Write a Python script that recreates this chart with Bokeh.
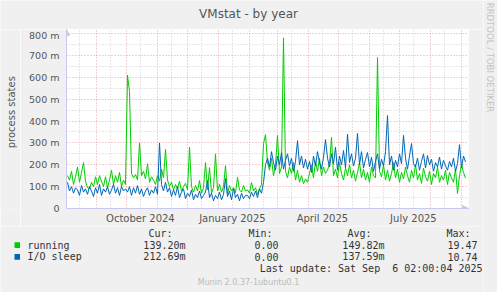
import numpy as np
import pandas as pd
from bokeh.plotting import figure
from bokeh.layouts import row, column
from bokeh.models import (Range1d, FixedTicker, Arrow, NormalHead, DatetimeTickFormatter)
from bokeh.core.properties import value
from bokeh.embed import file_html
from bokeh.resources import INLINE

# ---------------- data ----------------
dates = pd.date_range("2024-08-03 02:00", periods=200, freq="2D")

running = [
    150, 130, 170, 110, 145, 190, 120, 165, 210, 125,
    95, 90, 120, 100, 145, 110, 150, 125, 100, 145,
    95, 130, 175, 110, 150, 120, 165, 100, 130, 110,
    610, 535, 160, 140, 155, 130, 300, 150, 170, 135,
    205, 120, 145, 130, 110, 150, 125, 180, 140, 270,
    130, 100, 120, 85, 110, 90, 125, 80, 100, 115,
    85, 280, 100, 75, 105, 80, 128, 70, 95, 210,
    85, 187, 70, 95, 250, 80, 110, 75, 100, 196,
    70, 105, 80, 95, 72, 142, 85, 75, 105, 80,
    85, 70, 119, 80, 95, 65, 90, 110, 297, 338,
    210, 175, 230, 150, 200, 334, 160, 190, 780, 170,
    140, 190, 160, 210, 130, 175, 120, 150, 114, 135,
    120, 160, 200, 140, 215, 170, 230, 150, 190, 160,
    175, 205, 325, 150, 180, 140, 210, 160, 130, 185,
    150, 200, 140, 175, 125, 165, 210, 140, 180, 130,
    165, 120, 190, 150, 140, 690, 170, 145, 200, 130,
    175, 125, 160, 210, 140, 180, 120, 165, 135, 190,
    150, 120, 175, 140, 200, 130, 160, 115, 185, 145,
    125, 170, 110, 160, 140, 190, 120, 150, 130, 175,
    110, 165, 140, 120, 180, 69, 150, 200, 165, 139,
]

io_sleep = [
    120, 80, 100, 70, 95, 85, 60, 105, 75, 90,
    65, 100, 80, 55, 95, 70, 110, 60, 90, 75,
    100, 65, 85, 110, 70, 95, 60, 100, 80, 90,
    75, 100, 60, 95, 70, 105, 65, 90, 55, 80,
    95, 60, 85, 70, 100, 65, 300, 110, 80, 120,
    75, 95, 55, 85, 60, 100, 50, 75, 90, 45,
    70, 55, 85, 40, 65, 50, 80, 45, 60, 75,
    128, 50, 70, 35, 60, 45, 75, 40, 65, 137,
    55, 80, 40, 91, 50, 65, 35, 70, 45, 60,
    60, 45, 75, 55, 80, 50, 90, 70, 119, 200,
    230, 190, 260, 210, 175, 240, 200, 255, 180, 220,
    250, 195, 230, 170, 215, 310, 200, 240, 185, 225,
    180, 215, 165, 240, 195, 260, 210, 180, 235, 315,
    230, 190, 250, 205, 280, 175, 240, 200, 265, 185,
    340, 210, 250, 195, 230, 343, 200, 260, 185, 225,
    256, 190, 235, 170, 215, 250, 180, 225, 195, 260,
    425, 200, 240, 175, 220, 190, 250, 205, 334, 230,
    180, 240, 297, 205, 190, 230, 175, 215, 250, 185,
    242, 200, 225, 170, 210, 190, 235, 180, 220, 195,
    175, 215, 190, 230, 170, 205, 292, 185, 240, 213,
]

series_names = ["running", "I/O sleep"]
series_colors = ["#00CC00", "#0066B3"]
col_headers = ["Cur:", "Min:", "Avg:", "Max:"]
cur_vals = ["139.20m", "212.69m"]
min_vals = ["0.00", "0.00"]
avg_vals = ["149.82m", "137.59m"]
max_vals = ["19.47", "10.74"]

y_ticks = [0, 100, 200, 300, 400, 500, 600, 700, 800]
y_tick_labels = ["0", "100 m", "200 m", "300 m", "400 m", "500 m", "600 m", "700 m", "800 m"]
x_label_dates = ["2024-10-15", "2025-01-15", "2025-04-15", "2025-07-15"]

title_text = "VMstat - by year"
y_label_text = "process states"
credit_text = "RRDTOOL / TOBI OETIKER"
update_text = "Last update: Sat Sep\u00a0 6 02:00:04 2025"
version_text = "Munin 2.0.37-1ubuntu0.1"

# ---------------- layout constants ----------------
W, H = 497, 292
STRIP = 483          # right credit strip starts here
YL = 20              # width of y-label strip
FL, FR, FT, FB = 66, 468, 29, 208   # frame edges in page pixels
LEG_TOP = 226
BG = "#F0F0F0"
TXT = "#555555"
LEG_TXT = "#333333"
AXIS_C = "#C8C8F2"
DAY = 86400000
t0 = pd.Timestamp("2024-08-02 02:00").value // 10**6
y_top = 800 * (FB - FT) / 175.0


def ms(s):
    return pd.Timestamp(s).value // 10**6


def canvas_fig(w, h, x0, y0):
    f = figure(width=w, height=h, x_range=Range1d(x0, x0 + w), y_range=Range1d(y0 + h, y0),
               output_backend="svg", toolbar_location=None,
               x_axis_location=None, y_axis_location=None,
               min_border=0, border_fill_color=BG, background_fill_color=BG,
               outline_line_color=None)
    f.grid.visible = False
    return f


def put(f, x, y, text, align="left", font="DejaVu Sans Mono", size="10px",
        color=LEG_TXT, angle=0.0):
    f.text(x=[x], y=[y], text=[text], text_align=align, text_baseline="middle",
           text_font=value(font), text_font_size=value(size), text_color=color,
           angle=angle)


# ---------------- main plot ----------------
p = figure(width=STRIP - YL, height=LEG_TOP - FT, x_axis_type="datetime",
           x_range=Range1d(t0, t0 + (FR - FL) * DAY),
           y_range=Range1d(0, y_top),
           output_backend="svg", toolbar_location=None,
           min_border_left=FL - YL, min_border_right=STRIP - FR,
           min_border_top=0, min_border_bottom=LEG_TOP - FB,
           background_fill_color="white", border_fill_color=BG,
           outline_line_color=None)

month_starts = [ms(d) for d in pd.date_range("2024-09-01", "2025-09-01", freq="MS")]
mid_months = [ms(d) for d in pd.date_range("2024-08-01", "2025-08-01", freq="MS") + pd.Timedelta(days=14)]
p.xgrid.ticker = FixedTicker(ticks=month_starts, minor_ticks=mid_months)
p.ygrid.ticker = FixedTicker(ticks=y_ticks, minor_ticks=[v + 50 for v in y_ticks[:-1]])
for g in (p.xgrid, p.ygrid):
    g.grid_line_color = "#EBA3A3"
    g.grid_line_dash = "1 2"
    g.grid_line_width = 1
    g.minor_grid_line_color = "#CFCFCF"
    g.minor_grid_line_dash = "1 2"
    g.minor_grid_line_width = 1

for ax in (p.xaxis, p.yaxis):
    ax.axis_line_color = AXIS_C
    ax.major_tick_line_color = None
    ax.minor_tick_line_color = None
    ax.major_tick_out = 0
    ax.major_tick_in = 0
    ax.minor_tick_out = 0
    ax.minor_tick_in = 0
    ax.major_label_text_font = "DejaVu Sans"
    ax.major_label_text_color = TXT

p.yaxis.ticker = FixedTicker(ticks=y_ticks)
p.yaxis.major_label_overrides = {v: l for v, l in zip(y_ticks, y_tick_labels)}
p.yaxis.major_label_standoff = 7
p.yaxis.major_label_text_font_size = "9.5px"

p.xaxis.ticker = FixedTicker(ticks=[ms(d) for d in x_label_dates])
fmt = "%B %Y"
p.xaxis.formatter = DatetimeTickFormatter(
    microseconds=fmt, milliseconds=fmt, seconds=fmt, minsec=fmt, minutes=fmt,
    hourmin=fmt, hours=fmt, days=fmt, months=fmt, years=fmt)
p.xaxis.major_label_standoff = 4
p.xaxis.major_label_text_font_size = "10px"

p.line(dates, running, line_color=series_colors[0], line_width=1)
p.line(dates, io_sleep, line_color=series_colors[1], line_width=1)

p.add_layout(Arrow(end=NormalHead(size=6, fill_color=AXIS_C, line_color=AXIS_C),
                   x_start=t0, y_start=y_top - 20, x_end=t0, y_end=y_top,
                   line_color=AXIS_C))
p.add_layout(Arrow(end=NormalHead(size=6, fill_color=AXIS_C, line_color=AXIS_C),
                   x_start=t0 + 390 * DAY, y_start=0, x_end=t0 + (FR - FL) * DAY, y_end=0,
                   line_color=AXIS_C))

# ---------------- helper strips ----------------
title_fig = canvas_fig(STRIP, FT, 0, 0)
put(title_fig, 248, 13, title_text, align="center", font="DejaVu Sans", size="12px", color=TXT)

ylab_fig = canvas_fig(YL, LEG_TOP - FT, 0, FT)
put(ylab_fig, 11, 120, y_label_text, align="center", font="DejaVu Sans", size="10px",
    color=TXT, angle=np.pi / 2)

credit_fig = canvas_fig(W - STRIP, H, STRIP, 0)
put(credit_fig, 489, 57, credit_text, align="center", font="DejaVu Sans", size="8.5px",
    color="#C4C4C4", angle=-np.pi / 2)

leg = canvas_fig(STRIP, H - LEG_TOP, 0, LEG_TOP)
header_right = [172, 272, 371, 470]
for hx, ht in zip(header_right, col_headers):
    put(leg, hx, 233, ht, align="right")
rows_y = [244.6, 256.4]
leg.quad(left=[14, 14], right=[19.5, 19.5],
         top=[y - 2.8 for y in rows_y], bottom=[y + 2.8 for y in rows_y],
         fill_color=series_colors, line_color=None)
for i in range(2):
    yy = rows_y[i]
    put(leg, 27, yy, series_names[i])
    put(leg, 185, yy, cur_vals[i], align="right")
    put(leg, 278, yy, min_vals[i], align="right")
    put(leg, 384, yy, avg_vals[i], align="right")
    put(leg, 477, yy, max_vals[i], align="right")
put(leg, 482, 268.4, update_text, align="right")
put(leg, 248, 282, version_text, align="center", font="DejaVu Sans", size="8px", color="#BBBBBB")

layout = row(column(title_fig, row(ylab_fig, p), leg), credit_fig)

open("out.html", "w").write(file_html(layout, INLINE))
